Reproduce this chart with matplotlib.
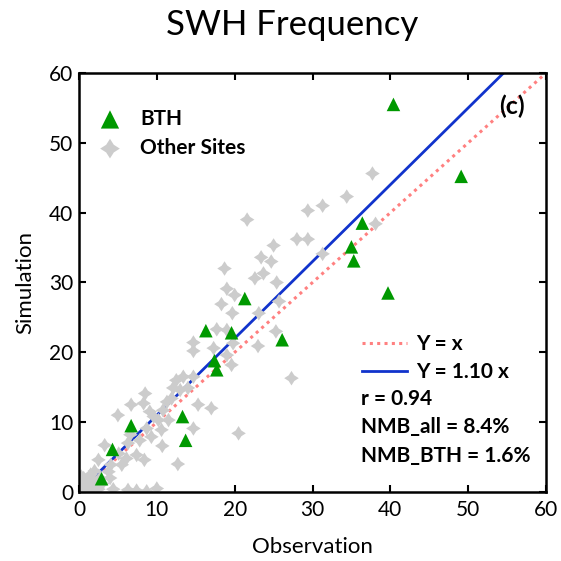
import matplotlib
matplotlib.use("Agg")
import matplotlib.pyplot as plt
import numpy as np

plt.rcParams['font.family'] = ['Lato', 'DejaVu Sans']

# BTH sites (observation, simulation)
bth_obs = [40.4, 49.1, 36.4, 35.0, 35.3, 39.7, 21.3, 16.3, 19.6, 26.1, 17.4, 17.7,
           13.3, 13.7, 6.7, 4.3, 2.9]
bth_sim = [55.5, 45.2, 38.5, 35.1, 33.1, 28.5, 27.7, 23.1, 22.8, 21.8, 18.8, 17.5,
           10.8, 7.4, 9.5, 6.1, 1.9]

# other sites
other_obs = [21.6, 29.4, 28.0, 29.4, 25.0, 23.4, 24.7, 18.7, 22.6, 23.7, 25.4, 19.0,
             37.7, 34.4, 31.3, 31.3, 38.1,
             20.0, 18.3, 25.7, 19.7, 17.7, 19.0, 23.1, 14.7, 14.7, 17.3, 19.8, 25.3, 23.0, 19.0, 19.6,
             27.3,
             12.5, 13.4, 14.7, 12.1, 13.0, 14.0, 11.9, 15.3, 17.0, 8.5, 8.3, 11.3, 10.8, 9.1, 9.6,
             10.2, 11.5, 10.6, 14.7, 20.5, 8.7,
             6.7, 5.0, 9.3, 6.6, 6.3, 10.7, 3.3, 5.1, 7.4, 8.4, 2.5, 4.1, 5.5, 12.7, 3.8, 0.3, 6.1, 7.8,
             4.4, 6.3, 7.4, 8.7, 10.0,
             0.5, 1.0, 1.5, 2.0, 0.8, 2.5, 1.2, 3.0, 0.2, 1.8, 2.7, 0.6, 2.0, 4.0, 1.5]
other_sim = [39.0, 40.3, 36.2, 36.2, 35.3, 33.6, 33.0, 32.0, 30.6, 31.3, 30.0, 29.1,
             45.6, 42.3, 41.0, 34.1, 38.4,
             28.2, 26.9, 27.3, 25.6, 23.3, 23.2, 25.6, 21.4, 20.2, 20.6, 21.3, 23.0, 20.9, 19.6, 18.2,
             16.3,
             16.0, 16.5, 16.5, 14.9, 14.6, 14.9, 13.4, 12.5, 12.0, 14.1, 12.7, 12.9, 11.7, 11.5, 10.8,
             10.3, 10.3, 8.9, 9.1, 8.4, 9.1,
             12.5, 11.0, 7.9, 8.2, 7.0, 6.6, 6.7, 5.5, 5.3, 4.6, 4.6, 3.9, 3.9, 4.0, 2.9, 2.2, 4.8, 7.4,
             0.4, 0.3, 0.2, 0.1, 0.5,
             0.3, 0.8, 0.5, 1.0, 1.3, 0.4, 0.1, 1.2, 0.8, 1.6, 2.0, 2.0, 3.0, 2.0, 2.5]

slope = 1.10
stats = ["r = 0.94", "NMB_all = 8.4%", "NMB_BTH = 1.6%"]

# fat four-point star marker
ang = np.arange(8) * np.pi / 4 + np.pi / 2
rad = np.where(np.arange(8) % 2 == 0, 1.0, 0.55)
star = list(zip(rad * np.cos(ang), rad * np.sin(ang)))

fig = plt.figure(figsize=(5.61, 5.61), dpi=100)
ax = fig.add_axes([0.1408, 0.123, 0.8325, 0.7469])

xx = np.array([1.0, 60.0])
l1, = ax.plot(xx, xx, color='#ff8080', linestyle=(0, (1, 1.4)), linewidth=2.2, zorder=1)
l2, = ax.plot(xx, slope * xx, color='#1133cc', linewidth=2, zorder=1)

s2 = ax.scatter(other_obs, other_sim, marker=star, s=110, color='#cccccc',
                edgecolors='none', zorder=2)
s1 = ax.scatter(bth_obs, bth_sim, marker='^', s=95, color='#009900',
                edgecolors='none', zorder=3)

ax.set_xlim(0, 60)
ax.set_ylim(0, 60)
ax.set_xticks(range(0, 61, 10))
ax.set_yticks(range(0, 61, 10))
ax.tick_params(direction='in', top=True, right=True, length=5, width=1.5,
               labelsize=15)
ax.tick_params(axis='x', labeltop=False, pad=6)
ax.tick_params(axis='y', pad=4)
for sp in ax.spines.values():
    sp.set_linewidth(1.8)

ax.set_xlabel('Observation', fontsize=16, labelpad=12)
ax.set_ylabel('Simulation', fontsize=16, labelpad=10)
fig.text(0.52, 0.955, 'SWH Frequency', fontsize=25, ha='center', va='center')

leg1 = ax.legend([s1, s2], ['BTH', 'Other Sites'], loc='upper left', frameon=False,
                 prop={'weight': 'bold', 'size': 15}, bbox_to_anchor=(-0.005, 0.959),
                 handlelength=1.4, handletextpad=0.75, labelspacing=0.44,
                 scatterpoints=1, markerscale=1.35)
ax.add_artist(leg1)
ax.legend([l1, l2], ['Y = x', 'Y = 1.10 x'], loc='upper left', frameon=False,
          prop={'weight': 'bold', 'size': 15}, bbox_to_anchor=(0.566, 0.422),
          handlelength=2.16, handletextpad=0.43, labelspacing=0.38)

for i, t in enumerate(stats):
    ax.text(0.603, 0.223 - i * 0.069, t, transform=ax.transAxes, fontsize=15,
            fontweight='bold', va='center', ha='left')

ax.text(0.955, 0.92, '(c)', transform=ax.transAxes, fontsize=18,
        fontweight='bold', ha='right', va='center')

fig.savefig('out.png', dpi=100)
